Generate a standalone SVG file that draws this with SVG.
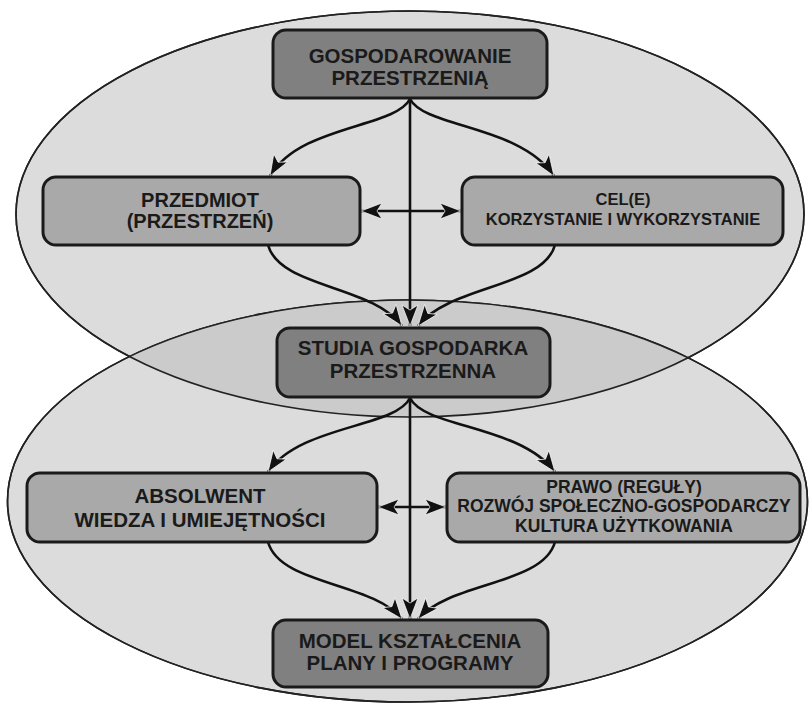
<svg xmlns="http://www.w3.org/2000/svg" width="810" height="708" viewBox="0 0 810 708">
<style>
.ell{fill:#dcdcdc;stroke:#222;stroke-width:1.6}
.ov{fill:#cbcbcb;stroke:none}
.dark rect{fill:#808080;stroke:#1a1a1a;stroke-width:3}
.light rect{fill:#a9a9a9;stroke:#1a1a1a;stroke-width:3}
text{font-family:"Liberation Sans",Arial,sans-serif;font-weight:bold;fill:#1a1a1a;text-anchor:middle}
.con path{fill:none;stroke:#111;stroke-width:2.6;marker-end:url(#ah)}
.con path.dbl{marker-start:url(#ah)}
</style>
<defs>
<marker id="ah" markerUnits="userSpaceOnUse" markerWidth="24" markerHeight="20" viewBox="0 0 24 20" refX="22" refY="10" orient="auto-start-reverse">
<path d="M1,2 L22,10 L1,18 L6,10 Z" fill="#111" stroke="#fff" stroke-width="0.7"/>
</marker>
<clipPath id="clipB"><ellipse cx="407.5" cy="501" rx="400" ry="201"/></clipPath>
</defs>
<g id="background">
<ellipse class="ell" cx="410" cy="214" rx="394" ry="203"/>
<ellipse class="ell" cx="407.5" cy="501" rx="400" ry="201"/>
<ellipse class="ov" cx="410" cy="214" rx="394" ry="203" clip-path="url(#clipB)"/>
<ellipse cx="410" cy="214" rx="394" ry="203" fill="none" stroke="#222" stroke-width="1.6"/>
<ellipse cx="407.5" cy="501" rx="400" ry="201" fill="none" stroke="#222" stroke-width="1.6"/>
</g>
<g id="connectors" class="con">
<path d="M410,98 L410,326"/>
<path d="M410,99 C395,128 300,125 270,176"/>
<path d="M410,99 C425,128 520,125 554,176"/>
<path d="M268,245 C280,288 372,285 402,326"/>
<path d="M555,245 C543,288 450,285 418,326"/>
<path class="dbl" d="M361,211 L461,211"/>
<path d="M410,397 L410,619"/>
<path d="M410,398 C395,428 300,425 268,472"/>
<path d="M410,398 C425,428 520,425 555,472"/>
<path d="M268,542 C280,585 372,582 402,619"/>
<path d="M555,542 C543,585 450,582 418,619"/>
<path class="dbl" d="M378,507 L446,507"/>
</g>
<g id="n1" class="dark">
<rect x="273" y="30" width="274" height="68" rx="13"/>
<text x="410" y="63" font-size="20.5">GOSPODAROWANIE</text>
<text x="410" y="85" font-size="20.5">PRZESTRZENIĄ</text>
</g>
<g id="n2" class="light">
<rect x="43" y="177" width="317" height="68" rx="13"/>
<text x="200" y="207" font-size="20">PRZEDMIOT</text>
<text x="200" y="228" font-size="20">(PRZESTRZEŃ)</text>
</g>
<g id="n3" class="light">
<rect x="462" y="177" width="321" height="68" rx="13"/>
<text x="623" y="205" font-size="16.5">CEL(E)</text>
<text x="623" y="225" font-size="16.5">KORZYSTANIE I WYKORZYSTANIE</text>
</g>
<g id="n4" class="dark">
<rect x="277" y="328" width="273" height="69" rx="13"/>
<text x="413" y="355" font-size="20.5">STUDIA GOSPODARKA</text>
<text x="413" y="378" font-size="20.5">PRZESTRZENNA</text>
</g>
<g id="n5" class="light">
<rect x="27" y="473" width="350" height="69" rx="13"/>
<text x="200" y="503" font-size="20.5">ABSOLWENT</text>
<text x="200" y="527" font-size="20.5">WIEDZA I UMIEJĘTNOŚCI</text>
</g>
<g id="n6" class="light">
<rect x="447" y="473" width="353" height="69" rx="13"/>
<text x="624" y="493" font-size="17.5">PRAWO (REGUŁY)</text>
<text x="624" y="512" font-size="17.5">ROZWÓJ SPOŁECZNO-GOSPODARCZY</text>
<text x="624" y="532" font-size="17.5">KULTURA UŻYTKOWANIA</text>
</g>
<g id="n7" class="dark">
<rect x="273" y="620" width="275" height="67" rx="13"/>
<text x="410" y="648" font-size="20.5">MODEL KSZTAŁCENIA</text>
<text x="410" y="670" font-size="20.5">PLANY I PROGRAMY</text>
</g>
</svg>
